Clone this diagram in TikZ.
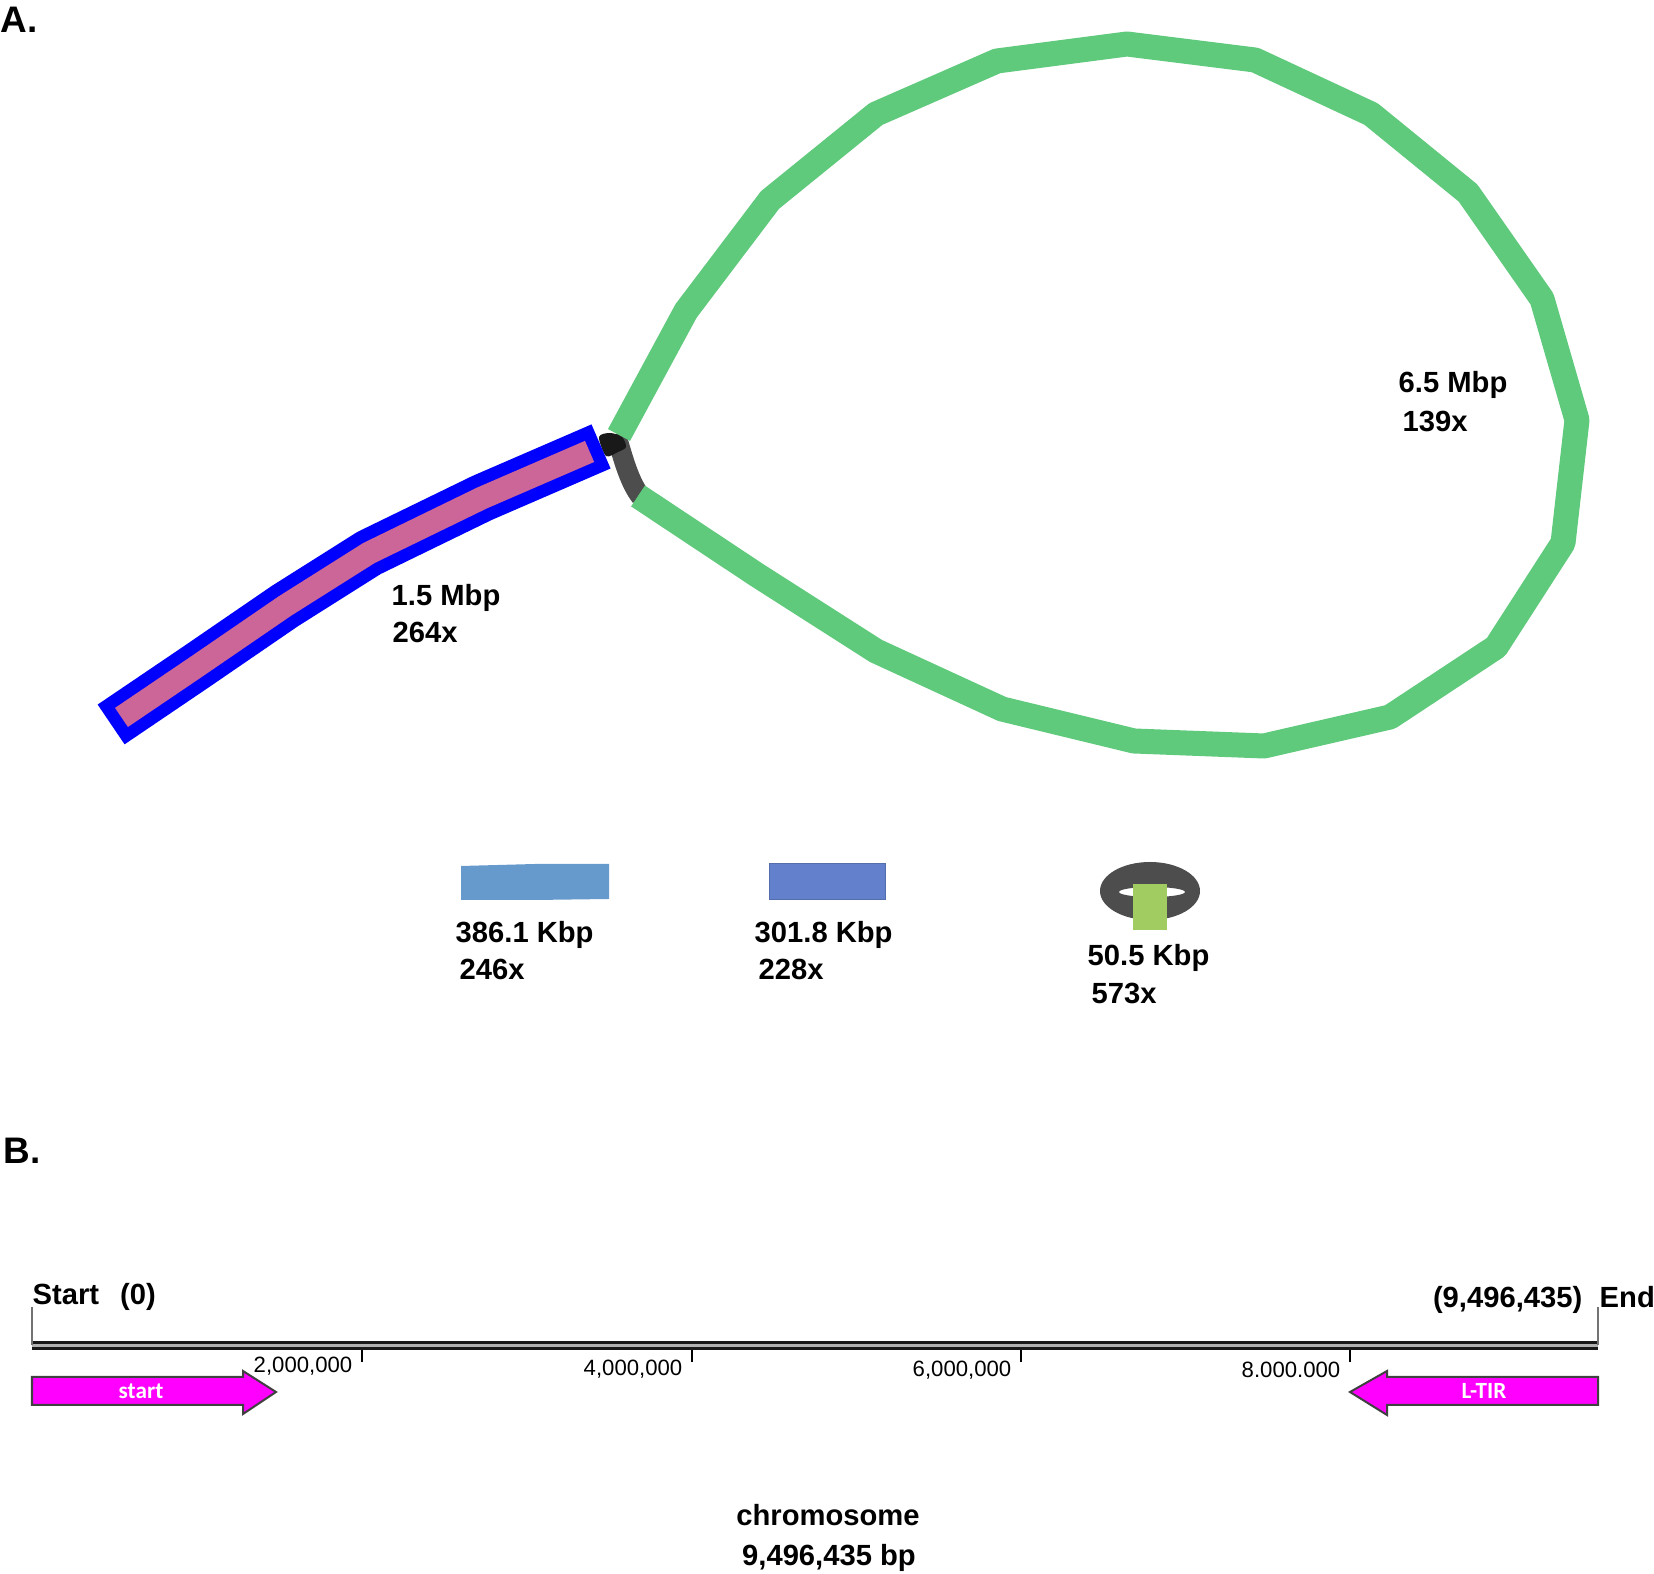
\documentclass[tikz,border=0pt]{standalone}
\usepackage{fontspec}
\setmainfont{Liberation Sans}
\newfontfamily\featfont{Carlito}
\usepackage{tikz}
\usetikzlibrary{positioning}

\definecolor{loopgreen}{RGB}{95,201,124}
\definecolor{contigpink}{RGB}{204,102,153}
\definecolor{contigblue}{RGB}{0,0,255}
\definecolor{steelblue}{RGB}{102,153,204}
\definecolor{slateblue}{RGB}{98,128,204}
\definecolor{ringgray}{RGB}{77,77,77}
\definecolor{plasgreen}{RGB}{160,204,98}
\definecolor{tirmagenta}{RGB}{255,0,255}

\begin{document}
\begin{tikzpicture}[
  x=0.01cm, y=-0.01cm,
  lbl/.style={anchor=base west, inner sep=0pt,
    font=\fontsize{8.3}{10}\selectfont\bfseries},
  panel/.style={anchor=base west, inner sep=0pt,
    font=\fontsize{10.5}{12}\selectfont\bfseries},
  ticklbl/.style={anchor=base east, inner sep=0pt,
    font=\fontsize{6.3}{7}\selectfont},
  featlbl/.style={anchor=base, inner sep=0pt, text=white,
    font=\fontsize{6.6}{7}\selectfont\featfont\bfseries},
  feat/.style={fill=tirmagenta, draw=black!75, line width=0.02cm},
  loopline/.style={loopgreen, line width=0.25cm, line join=round},
  tick/.style={black, line width=0.025cm}
]
\useasboundingbox (0,0) rectangle (1654,1574);

% panel A
\node[panel] (panA) at (0,33) {A.};

\draw[ringgray, line width=0.2cm] (616,434) .. controls (624,462) and (630,483) .. (641,497);
\fill[black!90] plot[smooth cycle] coordinates {(599,437) (610,433) (622,437) (626,447) (618,452) (606,456)};

\draw[loopline] (619,435) -- (686,311) -- (770,200) -- (876,114) -- (997,61)
  -- (1127,44) -- (1255,60) -- (1371,114) -- (1468,193) -- (1542,299)
  -- (1577,420) -- (1563,543) -- (1496,647) -- (1390,717) -- (1264,746)
  -- (1134,741) -- (1002,709) -- (876,651) -- (757,575) -- (638,496);

\draw[contigblue, line width=0.48cm, line cap=rect, line join=round]
  (579,456) -- (482,498) -- (369,553) -- (285,606) -- (196,667) -- (131,711);
\draw[contigpink, line width=0.23cm, line cap=rect, line join=round]
  (579,456) -- (482,498) -- (369,553) -- (285,606) -- (196,667) -- (131,711);

\node[lbl] (lenChr) at (391,606) {1.5 Mbp};
\node[lbl] (covChr) at (392,643) {264x};
\node[lbl] (lenLoop) at (1398,393) {6.5 Mbp};
\node[lbl] (covLoop) at (1402,432) {139x};

\fill[steelblue] (461,866) -- (535,864) -- (609,864) -- (609,899) -- (535,900) -- (461,900) -- cycle;
\fill[slateblue, draw=slateblue!85!black, line width=0.01cm] (769,864) rectangle (885,900);
\fill[ringgray, even odd rule] (1150,891) ellipse [x radius=50, y radius=29]
  (1152,892) ellipse [x radius=33, y radius=5];
\fill[plasgreen] (1133,884) rectangle (1167,930);

\node[lbl] (lenA) at (455,943) {386.1 Kbp};
\node[lbl] (covA) at (459,980) {246x};
\node[lbl] (lenB) at (754,943) {301.8 Kbp};
\node[lbl] (covB) at (758,980) {228x};
\node[lbl] (lenC) at (1087,966) {50.5 Kbp};
\node[lbl] (covC) at (1091,1004) {573x};

% panel B
\node[panel] (panB) at (3,1164) {B.};

\coordinate (chrL) at (32,1345.5);
\coordinate (chrR) at (1598,1345.5);
\draw[black!90, line width=0.03cm, double=black!30, double distance=0.035cm] (chrL) -- (chrR);
\draw[black!55, line width=0.015cm] (32,1307) -- (chrL);
\draw[black!55, line width=0.015cm] (1598,1307) -- (chrR);

\node[lbl] (startLbl) at (32,1305) {Start\hspace{0.21cm}(0)};
\node[lbl, anchor=base east] (endPos) at (1583,1308) {(9,496,435)};
\node[lbl] (endLbl) at (1599,1308) {End};

\foreach \tx/\ty/\tlab in {362/1373/{2,000,000}, 692/1376/{4,000,000},
    1021/1377/{6,000,000}, 1350/1378/{8.000.000}} {
  \draw[tick] (\tx,1350) -- (\tx,1362);
  \node[ticklbl] at (\tx-9,\ty) {\tlab};
}

\draw[feat] (32,1377) -- (243,1377) -- (243,1371) -- (276,1392) -- (243,1414)
  -- (243,1405) -- (32,1405) -- cycle;
\node[featlbl] (startFeat) at (141,1399) {start};
\draw[feat] (1598,1377) -- (1387,1377) -- (1387,1371) -- (1350,1392) -- (1387,1415)
  -- (1387,1405) -- (1598,1405) -- cycle;
\node[featlbl] (tirFeat) at (1484,1399) {L-TIR};

\node[lbl, anchor=base] (chrName) at (828,1526) {chromosome};
\node[lbl, anchor=base] (chrSize) at (829,1566) {9,496,435 bp};

\end{tikzpicture}
\end{document}
